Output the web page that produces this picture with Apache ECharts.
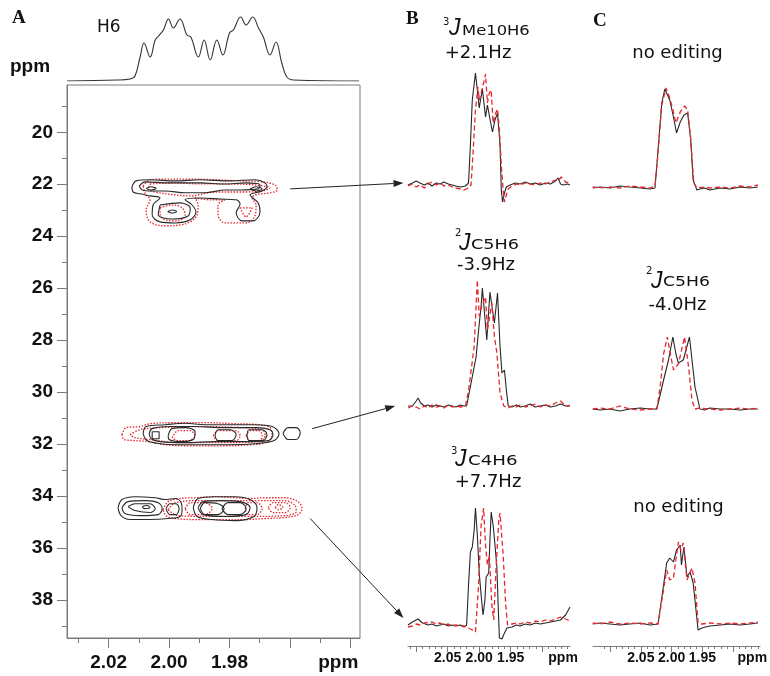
<!DOCTYPE html>
<html><head><meta charset="utf-8">
<script src="https://cdn.jsdelivr.net/npm/echarts@6/dist/echarts.min.js"></script>
<style>html,body{margin:0;padding:0;background:#fff}#main{width:770px;height:676px}</style>
</head><body><div id="main"></div>
<script>
// ---------- tick / label values ----------
const aMajorH = [2.02, 2.00, 1.98, 1.96, 1.94];
const aMinorH = [2.03, 2.01, 1.99, 1.97, 1.95];
const aLabelH = [2.02, 2.00, 1.98, 1.944];           // last one carries the "ppm" unit label
const aMajorC = [20, 22, 24, 26, 28, 30, 32, 34, 36, 38];
const aMinorC = [19, 21, 23, 25, 27, 29, 31, 33, 35, 37, 39];
const bcMajor = [2.10, 2.05, 2.00, 1.95, 1.90];
const bcMinor = [2.11, 2.09, 2.08, 2.07, 2.06, 2.04, 2.03, 2.02, 2.01, 1.99, 1.98, 1.97, 1.96, 1.94, 1.93, 1.92, 1.91, 1.89, 1.88, 1.87, 1.86];
const bLabels = [2.05, 2.00, 1.95, 1.867];
const cLabels = [2.05, 2.00, 1.95, 1.869];

// ---------- 1D H6 projection (ppm, intensity) ----------
const h6Spectrum = [[2.0338,0],[2.0173,1],[2.0129,2],[2.0113,5],[2.0096,24],[2.0083,38],[2.0063,24],[2.0046,41],[2.0035,45],[2.0019,51],[2.0002,62],[1.9986,53],[1.9964,62],[1.9941,46],[1.9928,44],[1.9903,24],[1.9884,41],[1.9864,21],[1.9842,41],[1.9822,26],[1.9800,48],[1.9787,51],[1.9763,64],[1.9745,56],[1.9723,64],[1.9704,53],[1.9688,44],[1.9666,26],[1.9646,39],[1.9627,18],[1.9610,4],[1.9588,1],[1.9371,0]];

// ---------- panel B traces ----------
const b1Black = [[2.113,0],[2.106,2],[2.100,4],[2.094,2],[2.087,0],[2.081,2],[2.075,-1],[2.068,2],[2.062,1],[2.056,3],[2.049,1],[2.043,0],[2.037,-1],[2.030,-2],[2.022,-1],[2.017,2],[2.014,40],[2.011,85],[2.006,112],[2.003,95],[2.000,77],[1.995,96],[1.990,68],[1.987,80],[1.983,66],[1.979,53],[1.975,65],[1.971,72],[1.967,40],[1.965,-5],[1.963,-17],[1.960,-8],[1.957,-2],[1.951,0],[1.943,2],[1.935,1],[1.927,3],[1.919,1],[1.911,2],[1.903,0],[1.895,2],[1.887,1],[1.879,4],[1.875,7],[1.871,1],[1.867,0],[1.860,1],[1.856,0]];
const b1Red = [[2.113,-1],[2.106,1],[2.100,-2],[2.094,0],[2.087,-3],[2.081,1],[2.075,3],[2.068,0],[2.062,2],[2.056,-1],[2.049,0],[2.043,-2],[2.037,-3],[2.030,-4],[2.024,-5],[2.017,-3],[2.013,0],[2.010,30],[2.006,75],[2.002,98],[2.000,85],[1.997,92],[1.992,105],[1.990,111],[1.987,82],[1.984,92],[1.981,95],[1.978,62],[1.975,70],[1.971,76],[1.968,55],[1.965,20],[1.962,-5],[1.960,-17],[1.957,-10],[1.954,-4],[1.948,-1],[1.941,1],[1.935,0],[1.927,2],[1.919,1],[1.911,0],[1.903,2],[1.895,1],[1.887,3],[1.879,5],[1.875,4],[1.870,8],[1.863,3],[1.856,2]];
const b2Black = [[2.113,0],[2.106,0],[2.100,5],[2.097,8],[2.093,3],[2.087,0],[2.081,1],[2.075,-1],[2.068,1],[2.062,0],[2.056,-1],[2.049,1],[2.043,0],[2.037,-1],[2.030,1],[2.024,0],[2.020,0],[2.012,26],[2.005,49],[2.001,76],[1.997,100],[1.995,118],[1.988,66],[1.983,114],[1.976,83],[1.971,113],[1.967,60],[1.964,33],[1.960,36],[1.957,16],[1.954,0],[1.948,-1],[1.941,1],[1.935,-1],[1.927,0],[1.919,2],[1.911,-1],[1.903,0],[1.895,1],[1.887,-1],[1.879,0],[1.871,2],[1.863,0],[1.856,0]];
const b2Red = [[2.113,-2],[2.106,0],[2.100,-1],[2.094,-3],[2.087,0],[2.081,-2],[2.075,1],[2.068,-1],[2.062,0],[2.056,-2],[2.049,1],[2.043,-1],[2.037,0],[2.030,-1],[2.022,0],[2.017,15],[2.013,35],[2.008,60],[2.005,100],[2.003,126],[2.000,90],[1.996,100],[1.990,109],[1.987,76],[1.980,103],[1.976,70],[1.972,53],[1.967,13],[1.961,0],[1.954,-2],[1.948,0],[1.941,-1],[1.935,1],[1.927,-1],[1.919,0],[1.911,2],[1.903,-1],[1.895,1],[1.887,0],[1.879,3],[1.871,5],[1.866,2],[1.860,0],[1.856,1]];
const b3Black = [[2.113,0],[2.106,3],[2.097,6],[2.090,2],[2.081,0],[2.075,1],[2.068,-1],[2.062,0],[2.056,1],[2.049,-1],[2.043,0],[2.037,-1],[2.030,0],[2.024,-2],[2.020,0],[2.017,40],[2.014,73],[2.011,78],[2.008,95],[2.006,117],[2.003,90],[2.000,52],[1.997,30],[1.994,10],[1.991,25],[1.989,48],[1.985,52],[1.983,85],[1.981,113],[1.978,100],[1.976,87],[1.972,58],[1.970,20],[1.968,-13],[1.964,-14],[1.960,-8],[1.956,-3],[1.948,-2],[1.941,0],[1.935,-1],[1.927,1],[1.919,0],[1.911,2],[1.903,1],[1.895,2],[1.887,3],[1.879,4],[1.871,5],[1.863,10],[1.856,18]];
const b3Red = [[2.113,-2],[2.106,-1],[2.100,1],[2.094,0],[2.087,2],[2.075,3],[2.068,1],[2.062,2],[2.056,0],[2.049,1],[2.043,-1],[2.037,0],[2.030,-1],[2.024,-1],[2.017,-3],[2.011,-5],[2.006,-7],[2.003,-5],[2.001,40],[1.997,100],[1.993,117],[1.990,80],[1.987,60],[1.984,70],[1.980,20],[1.977,5],[1.973,60],[1.969,105],[1.967,112],[1.962,70],[1.958,20],[1.955,0],[1.948,1],[1.941,2],[1.935,1],[1.927,3],[1.919,2],[1.911,4],[1.903,3],[1.895,5],[1.887,4],[1.879,6],[1.871,8],[1.863,6],[1.856,4]];

// ---------- panel C traces ----------
const c1Black = [[2.128,0],[2.116,1],[2.100,0],[2.084,2],[2.068,1],[2.051,0],[2.035,-1],[2.027,0],[2.022,38],[2.016,85],[2.011,99],[2.003,88],[1.997,71],[1.992,55],[1.986,66],[1.980,73],[1.974,75],[1.969,48],[1.965,8],[1.959,-2],[1.954,-1],[1.946,0],[1.938,-2],[1.921,0],[1.905,-1],[1.889,1],[1.873,0],[1.860,1]];
const c1Red = [[2.128,1],[2.116,0],[2.100,1],[2.084,0],[2.068,2],[2.051,1],[2.035,0],[2.027,2],[2.022,35],[2.016,83],[2.009,100],[2.003,90],[1.997,76],[1.993,65],[1.986,76],[1.979,82],[1.974,78],[1.969,50],[1.964,5],[1.959,0],[1.946,1],[1.938,0],[1.921,1],[1.905,0],[1.889,2],[1.873,1],[1.860,3]];
const c2Black = [[2.128,0],[2.116,-1],[2.100,0],[2.084,-2],[2.068,0],[2.051,1],[2.035,0],[2.024,0],[2.013,29],[2.005,49],[1.998,72],[1.993,55],[1.989,46],[1.981,49],[1.971,72],[1.962,22],[1.954,0],[1.946,-1],[1.938,1],[1.921,0],[1.905,0],[1.889,-1],[1.873,0],[1.860,0]];
const c2Red = [[2.128,0],[2.116,1],[2.100,0],[2.084,3],[2.068,0],[2.051,-1],[2.035,0],[2.024,0],[2.019,20],[2.013,55],[2.007,72],[2.002,55],[1.997,39],[1.989,45],[1.979,72],[1.972,40],[1.967,9],[1.962,0],[1.954,1],[1.938,0],[1.921,-1],[1.905,0],[1.889,1],[1.873,0],[1.860,1]];
const c3Black = [[2.128,0],[2.116,1],[2.100,0],[2.084,-1],[2.068,0],[2.051,1],[2.035,-1],[2.022,0],[2.008,61],[2.003,66],[1.997,62],[1.992,74],[1.986,79],[1.984,59],[1.980,77],[1.975,47],[1.970,52],[1.965,41],[1.957,-6],[1.951,-4],[1.938,-2],[1.921,-1],[1.905,0],[1.889,-1],[1.873,0],[1.860,1]];
const c3Red = [[2.128,1],[2.116,0],[2.100,2],[2.084,0],[2.068,1],[2.051,0],[2.035,1],[2.022,0],[2.008,54],[2.003,44],[1.997,46],[1.989,82],[1.985,74],[1.981,81],[1.975,44],[1.967,56],[1.962,41],[1.957,1],[1.951,0],[1.938,1],[1.921,0],[1.905,1],[1.889,0],[1.873,1],[1.860,2]];

// ---------- panel A contours (1H ppm, 13C ppm) ----------
const contour22Black = [
 [[2.0123,22.10],[2.0109,21.87],[2.0063,21.83],[1.9980,21.87],[1.9897,21.83],[1.9798,21.87],[1.9715,21.83],[1.9682,21.95],[1.9676,22.10],[1.9692,22.26],[1.9715,22.33],[1.9732,22.41],[1.9705,22.72],[1.9699,23.07],[1.9722,23.41],[1.9758,23.41],[1.9778,23.10],[1.9765,22.76],[1.9778,22.60],[1.9831,22.57],[1.9897,22.53],[1.9947,22.60],[1.9924,22.80],[1.9911,23.07],[1.9930,23.37],[1.9980,23.49],[2.0030,23.45],[2.0056,23.18],[2.0053,22.80],[2.0030,22.53],[2.0063,22.45],[2.0096,22.37],[2.0119,22.30]],
 [[2.0099,22.07],[2.0079,21.91],[1.9997,21.95],[1.9897,21.95],[1.9815,21.99],[1.9748,21.95],[1.9699,22.03],[1.9705,22.18],[1.9765,22.22],[1.9815,22.22],[1.9881,22.33],[1.9947,22.33],[2.0013,22.26],[2.0063,22.26],[2.0089,22.22]],
 [[2.0030,22.80],[1.9964,22.72],[1.9930,22.91],[1.9937,23.22],[1.9990,23.34],[2.0036,23.18]],
 [[2.0005,23.05],[1.9990,22.99],[1.9975,23.05],[1.9990,23.11]],
 [[2.0076,22.16],[2.0060,22.10],[2.0043,22.16],[2.0060,22.22]],
 [[1.9732,22.18],[1.9712,22.10],[1.9692,22.18],[1.9712,22.26]]
];
const contour22Red = [
 [[2.0086,22.07],[2.0063,21.83],[2.0013,21.80],[1.9930,21.80],[1.9848,21.83],[1.9765,21.87],[1.9692,21.91],[1.9649,22.03],[1.9642,22.22],[1.9666,22.33],[1.9715,22.41],[1.9725,22.53],[1.9712,22.80],[1.9719,23.30],[1.9748,23.49],[1.9815,23.49],[1.9838,23.18],[1.9838,22.80],[1.9815,22.60],[1.9864,22.60],[1.9914,22.53],[1.9904,22.80],[1.9907,23.18],[1.9947,23.53],[2.0013,23.60],[2.0063,23.45],[2.0076,22.99],[2.0063,22.60],[2.0079,22.37]],
 [[2.0063,21.99],[1.9980,21.95],[1.9897,21.99],[1.9798,21.99],[1.9715,22.03],[1.9666,22.14],[1.9692,22.26],[1.9765,22.30],[1.9848,22.30],[1.9930,22.45],[1.9980,22.41],[2.0046,22.30],[2.0069,22.18]],
 [[2.0030,22.91],[1.9990,22.80],[1.9957,22.91],[1.9947,23.18],[1.9970,23.41],[2.0013,23.37],[2.0030,23.14]],
 [[1.9765,22.91],[1.9725,22.91],[1.9745,23.26]]
];
const contour316Black = [
 [[2.0086,31.60],[2.0076,31.33],[2.0013,31.26],[1.9947,31.20],[1.9881,31.26],[1.9798,31.26],[1.9715,31.26],[1.9659,31.33],[1.9636,31.60],[1.9652,31.87],[1.9715,31.99],[1.9798,32.03],[1.9881,32.03],[1.9964,32.03],[2.0030,31.99],[2.0073,31.87]],
 [[2.0066,31.60],[2.0056,31.41],[1.9997,31.33],[1.9914,31.33],[1.9815,31.37],[1.9715,31.37],[1.9666,31.45],[1.9656,31.64],[1.9672,31.87],[1.9748,31.91],[1.9848,31.91],[1.9947,31.95],[2.0030,31.91],[2.0059,31.80]],
 [[2.0056,31.53],[2.0033,31.53],[2.0033,31.80],[2.0056,31.80]],
 [[2.0003,31.68],[1.9990,31.41],[1.9947,31.37],[1.9914,31.53],[1.9920,31.83],[1.9964,31.91],[2.0000,31.83]],
 [[1.9848,31.68],[1.9838,31.45],[1.9798,31.45],[1.9778,31.64],[1.9792,31.87],[1.9838,31.87]],
 [[1.9742,31.68],[1.9735,31.45],[1.9692,31.45],[1.9676,31.64],[1.9689,31.87],[1.9735,31.87]],
 [[1.9623,31.60],[1.9606,31.37],[1.9579,31.37],[1.9566,31.56],[1.9579,31.83],[1.9606,31.83]]
];
const contour316Red = [
 [[2.0156,31.64],[2.0142,31.37],[2.0096,31.33],[2.0063,31.22],[1.9980,31.18],[1.9881,31.18],[1.9781,31.22],[1.9699,31.26],[1.9666,31.37],[1.9659,31.64],[1.9672,31.91],[1.9732,32.03],[1.9831,32.07],[1.9930,32.07],[2.0013,32.03],[2.0069,31.91],[2.0113,31.87],[2.0149,31.83]],
 [[2.0129,31.64],[2.0096,31.45],[2.0030,31.37],[1.9897,31.33],[1.9765,31.37],[1.9692,31.45],[1.9682,31.68],[1.9705,31.91],[1.9831,31.95],[1.9964,31.95],[2.0063,31.83],[2.0113,31.76]],
 [[1.9990,31.76],[1.9970,31.49],[1.9930,31.49],[1.9914,31.68],[1.9937,31.87],[1.9970,31.87]],
 [[1.9854,31.68],[1.9838,31.49],[1.9778,31.49],[1.9765,31.68],[1.9778,31.87],[1.9838,31.87]],
 [[1.9745,31.68],[1.9732,31.49],[1.9702,31.49],[1.9692,31.68],[1.9702,31.87],[1.9732,31.87]]
];
const contour345Black = [
 [[2.0169,34.45],[2.0156,34.14],[2.0113,34.03],[2.0046,34.07],[2.0013,34.14],[1.9980,34.10],[1.9960,34.26],[1.9957,34.53],[1.9964,34.79],[2.0003,34.87],[2.0063,34.91],[2.0129,34.91],[2.0159,34.76]],
 [[2.0156,34.45],[2.0136,34.22],[2.0079,34.18],[2.0036,34.26],[2.0023,34.49],[2.0036,34.72],[2.0096,34.76],[2.0146,34.68]],
 [[2.0136,34.41],[2.0113,34.30],[2.0063,34.30],[2.0046,34.49],[2.0063,34.64],[2.0113,34.56]],
 [[2.0089,34.41],[2.0073,34.37],[2.0063,34.45],[2.0083,34.49]],
 [[2.0010,34.49],[1.9997,34.30],[1.9977,34.30],[1.9967,34.49],[1.9977,34.72],[1.9997,34.72]],
 [[1.9920,34.45],[1.9904,34.10],[1.9848,34.03],[1.9781,34.03],[1.9732,34.14],[1.9709,34.45],[1.9719,34.79],[1.9781,34.95],[1.9858,34.91],[1.9907,34.79]],
 [[1.9904,34.45],[1.9887,34.22],[1.9831,34.18],[1.9765,34.22],[1.9732,34.45],[1.9745,34.72],[1.9815,34.79],[1.9887,34.72]],
 [[1.9897,34.49],[1.9881,34.26],[1.9838,34.30],[1.9818,34.49],[1.9838,34.72],[1.9881,34.72]],
 [[1.9825,34.49],[1.9805,34.26],[1.9765,34.26],[1.9745,34.49],[1.9765,34.72],[1.9805,34.72]]
];
const contour345Red = [
 [[2.0020,34.53],[2.0003,34.22],[1.9964,34.10],[1.9914,34.07],[1.9848,34.03],[1.9781,34.07],[1.9732,34.10],[1.9682,34.07],[1.9616,34.07],[1.9573,34.22],[1.9560,34.49],[1.9573,34.72],[1.9616,34.83],[1.9682,34.87],[1.9748,34.91],[1.9831,34.91],[1.9914,34.91],[1.9980,34.87],[2.0010,34.76]],
 [[2.0003,34.53],[1.9980,34.26],[1.9897,34.18],[1.9798,34.18],[1.9699,34.18],[1.9616,34.18],[1.9583,34.37],[1.9579,34.60],[1.9616,34.76],[1.9732,34.79],[1.9864,34.79],[1.9970,34.76]],
 [[1.9672,34.45],[1.9656,34.26],[1.9616,34.26],[1.9599,34.45],[1.9616,34.64],[1.9656,34.64]],
 [[1.9649,34.45],[1.9639,34.33],[1.9623,34.45],[1.9639,34.53]],
 [[1.9748,34.49],[1.9738,34.26],[1.9709,34.26],[1.9692,34.49],[1.9709,34.72],[1.9738,34.72]],
 [[1.9947,34.49],[1.9930,34.26],[1.9881,34.26],[1.9858,34.49],[1.9881,34.72],[1.9930,34.72]]
];

// arrows: start in panel A (1H ppm, 13C ppm), end in panel B rows (ppm, intensity)
const arrowStarts = [[1.9599,22.18],[1.9526,31.41],[1.9533,34.87]];
const arrowEnds = [[2.1202,2],[2.1333,0],[2.1202,7]];

// ---------- build chart ----------
const GRAY = '#7a7a7a', BLACK = '#262626', RED = '#e8262e';
const boldLab = {fontFamily:"'Liberation Sans', Arial, sans-serif", fontWeight:'bold', color:'#111'};

const grids = [
  {left:67, top:85, width:293, height:553, show:true, borderColor:GRAY, borderWidth:1},
  {left:67, top:10, width:293, height:71},
  {left:408, top:70, width:162, height:135},
  {left:408, top:276, width:162, height:135},
  {left:408, top:505, width:162, height:141},
  {left:593, top:78, width:167, height:120},
  {left:593, top:299, width:167, height:120},
  {left:593, top:514, width:167, height:132}
].map(g => Object.assign({containLabel:false, outerBoundsMode:'none'}, g));

function hiddenX(grid, min, max){ return {type:'value', gridIndex:grid, min, max, inverse:true, show:false}; }
function tickAxisX(grid, min, max, ticks, len, labels, fontSize, margin){
  return {type:'value', gridIndex:grid, min, max, inverse:true, position:'bottom',
    axisLine:{show:true, onZero:false, lineStyle:{color:GRAY, width:1}},
    axisTick:{show:true, inside:false, length:len, customValues:ticks, lineStyle:{color:GRAY}},
    axisLabel: labels ? Object.assign({show:true, customValues:labels, fontSize, margin, hideOverlap:false,
      showMinLabel:true, showMaxLabel:true,
      formatter: v => (v < 1.945 && v > 1.94) || v < 1.88 ? 'ppm' : v.toFixed(2)}, boldLab) : {show:false},
    splitLine:{show:false}, minorTick:{show:false}};
}
const xAxes = [
  tickAxisX(0, 1.9368, 2.0338, aMajorH, 10, aLabelH, 19, 15),
  tickAxisX(0, 1.9368, 2.0338, aMinorH, 5, null),
  hiddenX(1, 1.9368, 2.0338),
  hiddenX(2, 1.856, 2.113),
  hiddenX(3, 1.856, 2.113),
  tickAxisX(4, 1.856, 2.113, bcMajor, 6, bLabels, 14, 5),
  tickAxisX(4, 1.856, 2.113, bcMinor, 3, null),
  hiddenX(5, 1.8565, 2.1276),
  hiddenX(6, 1.8565, 2.1276),
  tickAxisX(7, 1.8565, 2.1276, bcMajor, 6, cLabels, 14, 5),
  tickAxisX(7, 1.8565, 2.1276, bcMinor, 3, null)
];
xAxes[1].axisLine.show = false; xAxes[6].axisLine.show = false; xAxes[10].axisLine.show = false;

function hiddenY(grid, min, max){ return {type:'value', gridIndex:grid, min, max, show:false}; }
function tickAxisY(ticks, len, labels){
  return {type:'value', gridIndex:0, min:18.18, max:39.47, inverse:true, position:'left',
    axisLine:{show:true, onZero:false, lineStyle:{color:GRAY, width:1}},
    axisTick:{show:true, inside:false, length:len, customValues:ticks, lineStyle:{color:GRAY}},
    axisLabel: labels ? Object.assign({show:true, customValues:labels, fontSize:19, margin:14}, boldLab) : {show:false},
    splitLine:{show:false}};
}
const yAxes = [
  tickAxisY(aMajorC, 10, aMajorC),
  tickAxisY(aMinorC, 5, null),
  hiddenY(1, 0, 71),
  hiddenY(2, -20, 115),
  hiddenY(3, -5, 130),
  hiddenY(4, -21, 120),
  hiddenY(5, -10, 110),
  hiddenY(6, -10, 110),
  hiddenY(7, -22, 110)
];
yAxes[1].axisLine.show = false;

const series = [];
function line(data, xi, yi, color, type, width, smooth){
  series.push({type:'line', xAxisIndex:xi, yAxisIndex:yi, data, symbol:'none', smooth:smooth||false,
    lineStyle:{color, width, type}, silent:true, animation:false});
}
function contours(rings, color, type){
  rings.forEach(r => line(r.concat([r[0]]), 0, 0, color, type, type==='solid'?1.1:1.3, 0.35));
}
contours(contour22Red, RED, [1.5,1.5]);
contours(contour316Red, RED, [1.5,1.5]);
contours(contour345Red, RED, [1.5,1.5]);
contours(contour22Black, '#2a2a2a', 'solid');
contours(contour316Black, '#2a2a2a', 'solid');
contours(contour345Black, '#2a2a2a', 'solid');
line(h6Spectrum, 2, 2, '#333', 'solid', 1.1, 0.4);
const traces = [[b1Black,b1Red,3,3],[b2Black,b2Red,4,4],[b3Black,b3Red,5,5],[c1Black,c1Red,7,6],[c2Black,c2Red,8,7],[c3Black,c3Red,9,8]];
traces.forEach(t => { line(t[0], t[2], t[3], BLACK, 'solid', 1.1, false); line(t[1], t[2], t[3], RED, [5,3], 1.3, false); });

const chart = echarts.init(document.getElementById('main'), null, {renderer:'canvas'});
chart.setOption({animation:false, backgroundColor:'#fff', grid:grids, xAxis:xAxes, yAxis:yAxes, series});

// ---------- annotations ----------
const SANS = "'DejaVu Sans', sans-serif";
const LIB = "'Liberation Sans', Arial, sans-serif";
const SERIF = "'Liberation Serif', 'Times New Roman', serif";
function txt(text, x, y, font, align, scaleX){
  return {type:'text', x, y, scaleX:scaleX||1, originX:0, originY:0, silent:true,
    style:{text, font, fill:'#111', align:align||'left', verticalAlign:'middle'}};
}
const g = [
  txt('A', 12, 18, 'bold 19px ' + SERIF),
  txt('B', 406, 19, 'bold 19px ' + SERIF),
  txt('C', 593, 21, 'bold 19px ' + SERIF),
  txt('H6', 97, 28, '17px ' + SANS),
  txt('ppm', 10, 67, 'bold 19px ' + LIB),
  txt('3', 443, 22, '10px ' + SANS),
  txt('J', 449, 29, 'italic 23px ' + LIB),
  txt('Me10H6', 462, 31, '14px ' + SANS, 'left', 1.17),
  txt('+2.1Hz', 478, 53, '18px ' + SANS, 'center'),
  txt('no editing', 677.5, 53, '18px ' + SANS, 'center'),
  txt('2', 455, 233, '10px ' + SANS),
  txt('J', 459, 243.5, 'italic 23px ' + LIB),
  txt('C5H6', 471, 245, '14px ' + SANS, 'left', 1.26),
  txt('-3.9Hz', 486, 265, '18px ' + SANS, 'center'),
  txt('2', 646, 271, '10px ' + SANS),
  txt('J', 651, 281.7, 'italic 23px ' + LIB),
  txt('C5H6', 663, 282, '14px ' + SANS, 'left', 1.23),
  txt('-4.0Hz', 677.5, 305, '18px ' + SANS, 'center'),
  txt('3', 451, 451, '10px ' + SANS),
  txt('J', 455, 460, 'italic 23px ' + LIB),
  txt('C4H6', 468, 461.5, '14px ' + SANS, 'left', 1.3),
  txt('+7.7Hz', 488, 482.5, '18px ' + SANS, 'center'),
  txt('no editing', 678.5, 507, '18px ' + SANS, 'center')
];
const endAxes = [[3,3],[4,4],[5,5]];
arrowStarts.forEach((s, i) => {
  const p0 = chart.convertToPixel({xAxisIndex:0, yAxisIndex:0}, s);
  const p1 = chart.convertToPixel({xAxisIndex:endAxes[i][0], yAxisIndex:endAxes[i][1]}, arrowEnds[i]);
  const dx = p1[0]-p0[0], dy = p1[1]-p0[1], L = Math.hypot(dx, dy), ux = dx/L, uy = dy/L;
  const hl = 10, hw = 3.5, bx = p1[0]-ux*hl, by = p1[1]-uy*hl;
  g.push({type:'line', silent:true, shape:{x1:p0[0], y1:p0[1], x2:bx, y2:by}, style:{stroke:'#222', lineWidth:1}});
  g.push({type:'polygon', silent:true, shape:{points:[[p1[0],p1[1]],[bx-uy*hw, by+ux*hw],[bx+uy*hw, by-ux*hw]]}, style:{fill:'#222'}});
});
chart.setOption({graphic:g});
</script></body></html>
